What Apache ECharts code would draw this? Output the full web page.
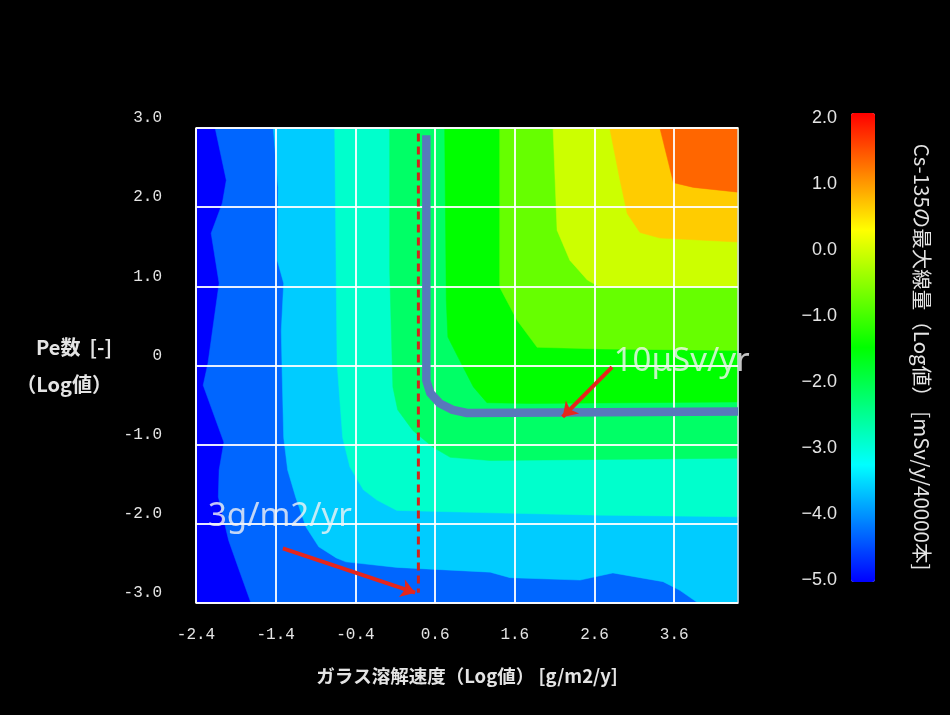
<!DOCTYPE html>
<html>
<head>
<meta charset="utf-8">
<script src="https://cdn.jsdelivr.net/npm/echarts@6/dist/echarts.min.js"></script>
<style>
  html, body { margin: 0; padding: 0; background: #000; }
  #chart { width: 950px; height: 715px; }
</style>
</head>
<body>
<div id="chart"></div>
<script>
// Plot extent: log10 glass dissolution rate (x) and log10 Peclet number (y)
const X_MIN = -2.4, X_MAX = 4.4;
const Y_MIN = -3, Y_MAX = 3;

// Tick values
const xTicks = [-2.4, -1.4, -0.4, 0.6, 1.6, 2.6, 3.6];
const yTicks = [-3, -2, -1, 0, 1, 2, 3];
const doseTicks = [-5, -4, -3, -2, -1, 0, 1, 2];

// Lower bound of each filled band, log10 of peak Cs-135 dose
const levels = [-5.0, -4.3, -3.6, -2.9, -2.2, -1.5, -0.8, -0.1, 0.6, 1.3];

// Contour line of each level, traced from the top/left edge to the bottom/right edge.
// The region above-right of a line holds doses at or above that level.
const edge0 = [[-2.4, 3.0], [-2.4, -3.0]];
const edge1 = [[-2.16, 3.0], [-2.02, 2.34], [-2.07, 2.05], [-2.21, 1.67], [-2.11, 1.04],
               [-2.25, 0.03], [-2.31, -0.25], [-2.05, -0.97], [-2.11, -1.32], [-2.12, -1.66],
               [-1.99, -2.21], [-1.86, -2.58], [-1.71, -3.0]];
const edge2 = [[-1.43, 3.0], [-1.37, 2.25], [-1.38, 1.33], [-1.30, 1.04], [-1.33, 0.44],
               [-1.32, -0.06], [-1.30, -0.91], [-1.25, -1.32], [-1.15, -1.66], [-1.02, -2.04],
               [-0.86, -2.29], [-0.64, -2.43], [-0.52, -2.48], [0.12, -2.55], [1.29, -2.61],
               [1.54, -2.68], [2.42, -2.71], [2.83, -2.62], [3.46, -2.73], [3.67, -2.84],
               [3.90, -3.0]];
const edge3 = [[-0.66, 3.0], [-0.63, 0.03], [-0.56, -0.91], [-0.47, -1.28], [-0.30, -1.57],
               [-0.13, -1.70], [0.12, -1.83], [1.29, -1.86], [2.67, -1.89], [4.4, -1.91]];
const edge4 = [[0.03, 3.0], [0.03, 1.20], [0.07, -0.27], [0.13, -0.56], [0.32, -0.82],
               [0.57, -1.03], [0.79, -1.16], [1.29, -1.20], [4.4, -1.17]];
const edge5 = [[0.72, 3.0], [0.74, 0.82], [0.76, 0.36], [0.89, 0.10], [1.08, -0.27],
               [1.25, -0.47], [1.79, -0.48], [4.4, -0.46]];
const edge6 = [[1.41, 3.0], [1.41, 0.99], [1.63, 0.57], [1.88, 0.23], [2.67, 0.21], [4.4, 0.19]];
const edge7 = [[2.08, 3.0], [2.13, 1.71], [2.29, 1.33], [2.51, 1.08], [2.67, 0.99], [4.4, 1.0]];
const edge8 = [[2.79, 3.0], [2.92, 2.34], [3.01, 1.92], [3.17, 1.68], [3.42, 1.61], [4.4, 1.56]];
const edge9 = [[3.42, 3.0], [3.59, 2.31], [3.84, 2.25], [4.4, 2.19]];
const bandEdges = [edge0, edge1, edge2, edge3, edge4, edge5, edge6, edge7, edge8, edge9];

// 10 μSv/yr dose contour
const limit10uSv = [[0.49, 2.91], [0.49, -0.19], [0.54, -0.35], [0.66, -0.48],
                    [0.82, -0.56], [1.0, -0.60], [4.4, -0.58]];
// Glass dissolution rate of 3 g/m2/yr
const rate3g = [[0.39, 2.93], [0.39, -2.87]];
// Callout arrows: [from, to]
const arrowRate = [[-1.31, -2.31], [0.35, -2.87]];
const arrowDose = [[2.82, -0.02], [2.20, -0.65]];
// Callout texts and their anchor points
const noteTexts = ['3g/m2/yr', '10μSv/yr'];
const noteAnchors = [[-2.25, -1.91], [2.84, 0.05]];

const TXT = '#e4e4e4';
const CJK = '"Noto Sans CJK JP", "Noto Sans", sans-serif';
const MONO = '"Liberation Mono", "DejaVu Sans Mono", monospace';

const chart = echarts.init(document.getElementById('chart'), null, { renderer: 'canvas' });

chart.setOption({
  backgroundColor: '#000000',
  animation: false,
  grid: [
    { left: 196, top: 128, width: 542, height: 475, show: true,
      borderColor: '#d8d8d8', borderWidth: 1.5, backgroundColor: 'transparent' },
    { left: 851, top: 118, width: 24, height: 462 }
  ],
  xAxis: [
    {
      gridIndex: 0, type: 'value', min: X_MIN, max: X_MAX,
      axisLine: { show: false },
      axisTick: { show: false, customValues: xTicks },
      axisLabel: { customValues: xTicks, formatter: v => v.toFixed(1), margin: 24,
                   color: TXT, fontFamily: MONO, fontSize: 16 },
      splitLine: { show: true, lineStyle: { color: 'rgba(255,255,255,0.9)', width: 2 } },
      name: 'ガラス溶解速度（Log値） [g/m2/y]',
      nameLocation: 'middle', nameGap: 62, nameMoveOverlap: false,
      nameTextStyle: { color: TXT, fontFamily: CJK, fontSize: 18.5, fontWeight: 'bold', lineHeight: 22 }
    },
    { gridIndex: 1, type: 'value', min: 0, max: 1, show: false }
  ],
  yAxis: [
    {
      gridIndex: 0, type: 'value', min: Y_MIN, max: Y_MAX, interval: 1,
      axisLine: { show: false }, axisTick: { show: false },
      axisLabel: { formatter: v => (v === 0 ? '0' : v.toFixed(1)), margin: 34,
                   verticalAlign: 'bottom', padding: [0, 0, 2, 0],
                   color: TXT, fontFamily: MONO, fontSize: 16 },
      splitLine: { show: true, lineStyle: { color: 'rgba(255,255,255,0.9)', width: 2 } },
      name: 'Pe数  [-]\n（Log値）',
      nameLocation: 'middle', nameRotate: 0, nameGap: 84, nameMoveOverlap: false,
      nameTextStyle: { color: TXT, fontFamily: CJK, fontSize: 20, fontWeight: 'bold',
                       lineHeight: 37, align: 'right', verticalAlign: 'middle',
                       padding: [0, 0, 34, 0] }
    },
    {
      gridIndex: 1, type: 'value', min: doseTicks[0], max: doseTicks[doseTicks.length - 1], interval: 1,
      axisLine: { show: false }, axisTick: { show: false }, splitLine: { show: false },
      axisLabel: { formatter: v => v.toFixed(1).replace('-', '\u2212'), margin: 14,
                   color: TXT, fontFamily: '"Liberation Sans", Arial, sans-serif', fontSize: 18 }
    }
  ],
  visualMap: {
    type: 'continuous', min: -5, max: 2, seriesIndex: 0, dimension: 0,
    inRange: { color: ['#0000ff', '#00ffff', '#00ff00', '#ffff00', '#ff0000'] },
    left: 851, top: 113, itemWidth: 24, itemHeight: 469, padding: 0,
    calculable: false, hoverLink: false, text: null, showLabel: false
  },
  graphic: [
    {
      type: 'text', x: 922, y: 357, rotation: -Math.PI / 2, silent: true,
      style: { text: 'Cs-135の最大線量（Log値） [mSv/y/40000本]', fill: TXT,
               font: '20.5px "Noto Sans CJK JP", sans-serif', align: 'center', verticalAlign: 'middle' }
    }
  ],
  series: [
    {
      // filled dose bands
      type: 'custom', xAxisIndex: 0, yAxisIndex: 0, z: -1, silent: true,
      data: levels.map((lv, i) => [lv, i]),
      encode: { x: -1, y: -1 },
      renderItem: (params, api) => {
        const edge = bandEdges[params.dataIndex];
        const pts = edge.map(p => api.coord(p));
        const last = edge[edge.length - 1];
        if (last[1] <= Y_MIN) pts.push(api.coord([X_MAX, Y_MIN]));
        pts.push(api.coord([X_MAX, Y_MAX]));
        return { type: 'polygon', shape: { points: pts },
                 style: { fill: api.visual('color'), stroke: api.visual('color'), lineWidth: 0.5 } };
      }
    },
    {
      type: 'line', data: rate3g, symbol: 'none', silent: true, z: 4,
      lineStyle: { color: '#d4231b', width: 3, type: [8, 5] }
    },
    {
      type: 'line', data: limit10uSv, symbol: 'none', silent: true, z: 5,
      lineStyle: { color: '#5879bb', width: 8.5, join: 'round' }
    },
    {
      type: 'lines', coordinateSystem: 'cartesian2d', silent: true, z: 6,
      symbol: ['none', 'arrow'], symbolSize: 14,
      lineStyle: { color: '#e5261c', width: 4, opacity: 1 },
      data: [{ coords: arrowRate }, { coords: arrowDose }]
    },
    {
      type: 'scatter', symbolSize: 0, silent: true, z: 7,
      data: noteAnchors.map((p, i) => ({ value: p, name: noteTexts[i] })),
      label: { show: true, position: 'right', distance: 0, formatter: '{b}',
               color: '#f4f4f4', fontFamily: '"Noto Sans", sans-serif', fontSize: 33 }
    }
  ]
});
</script>
</body>
</html>
